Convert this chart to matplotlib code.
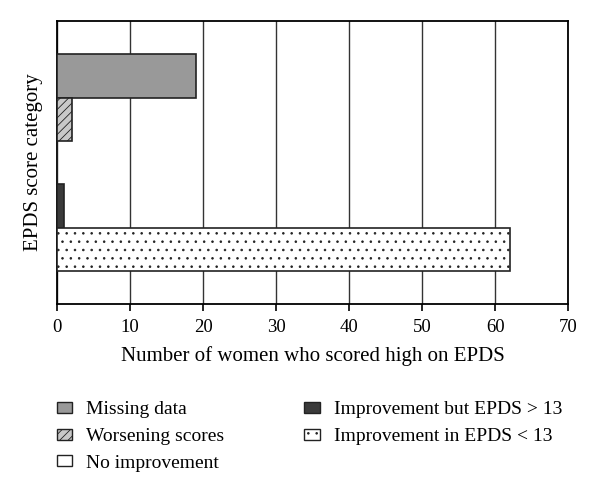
import matplotlib
matplotlib.use("Agg")
import matplotlib.pyplot as plt
from matplotlib.patches import Patch

plt.rcParams['font.family'] = ['Liberation Serif', 'DejaVu Serif']
plt.rcParams['hatch.linewidth'] = 0.6

series = ['Missing data', 'Worsening scores', 'No improvement',
          'Improvement but EPDS > 13', 'Improvement in EPDS < 13']
values = [19, 2, 0, 1, 62]
colors = ['#999999', '#c8c8c8', '#ffffff', '#3a3a3a', '#ffffff']
hatches = ['', '////', '', '', '..']
xticks = [0, 10, 20, 30, 40, 50, 60, 70]

fig = plt.figure(figsize=(6, 4.92), dpi=100)
ax = fig.add_axes([0.095, 0.382, 0.852, 0.575])

h = 0.15
for i, (v, c, ht) in enumerate(zip(values, colors, hatches)):
    y = (len(values) - 1 - i) * h - (len(values) - 1) * h / 2
    ax.barh(y, v, height=h, color=c, edgecolor='#222222', hatch=ht,
            linewidth=1.2, zorder=3)

ax.set_xlim(0, 70)
ax.set_ylim(-0.49, 0.49)
ax.set_xticks(xticks)
ax.set_yticks([])
ax.grid(axis='x', color='#333333', linewidth=1.0, zorder=0)
for s in ax.spines.values():
    s.set_color('black')
    s.set_linewidth(1.3)
ax.tick_params(axis='x', length=5, width=1.2, labelsize=13.5, pad=6)
ax.set_xlabel('Number of women who scored high on EPDS', fontsize=15, labelpad=7)
ax.set_ylabel('EPDS score category', fontsize=15, labelpad=10)

handles = [Patch(facecolor=c, edgecolor='#222222', hatch=hh, linewidth=1.0)
           for c, hh in zip(colors, hatches)]
fig.legend(handles, series, loc='upper left', bbox_to_anchor=(0.065, 0.22),
           ncol=2, frameon=False, fontsize=14, handlelength=0.82, handleheight=0.5,
           handletextpad=0.72, labelspacing=0.5, columnspacing=4.1)

fig.savefig('out.png', dpi=100)
